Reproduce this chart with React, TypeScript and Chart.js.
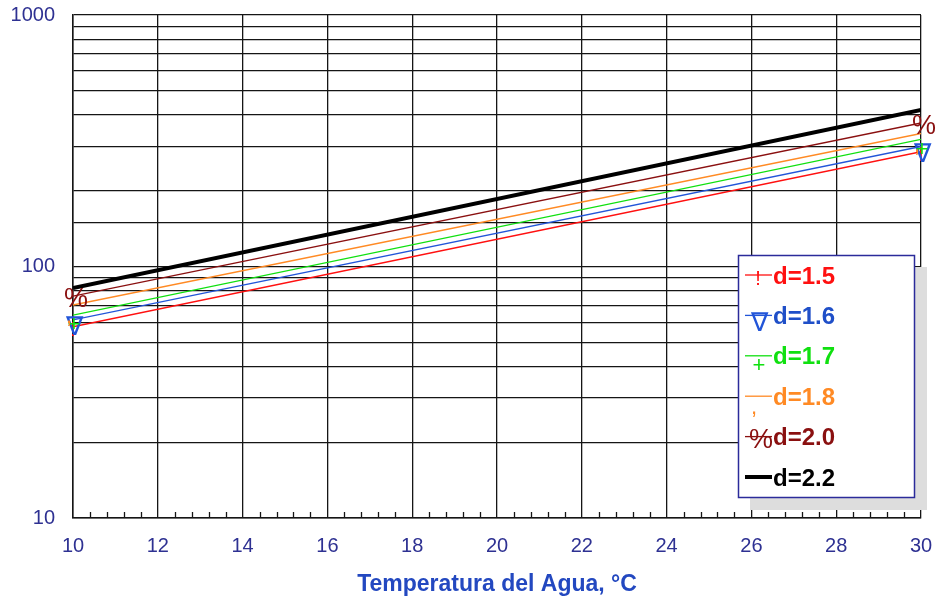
import React, { useEffect, useRef } from 'react';
import { Chart, registerables } from 'chart.js';

Chart.register(...registerables);

// ---- data ----
const temperatures = [10, 30];
const seriesLabels = ['d=1.5', 'd=1.6', 'd=1.7', 'd=1.8', 'd=2.0', 'd=2.2'];
const d15 = [57.6, 286];
const d16 = [61.3, 300];
const d17 = [64.1, 320];
const d18 = [70.3, 338];
const d20 = [76.3, 372];
const d22 = [82.1, 419];
const seriesValues = [d15, d16, d17, d18, d20, d22];
const xTickStep = 2;
const xMinorStep = 0.4;
const yTickLabels = [10, 100, 1000];
const xTitle = 'Temperatura del Agua, °C';

// ---- styles ----
const FONT = "'Liberation Sans', Arial, sans-serif";
const AXIS_TEXT = '#2e3192';
const TITLE_COLOR = '#2348c0';
const GRID = '#151515';
const seriesStyles = [
  { color: '#ff1010', text: '#ff1010', width: 1.3, glyph: '!', size: 20, dx: 0, dy: -6 },
  { color: '#2255d8', text: '#1f4fc8', width: 1.3, glyph: '∇', size: 26, dx: 1, dy: -5 },
  { color: '#10e010', text: '#10e010', width: 1.3, glyph: '+', size: 22, dx: 1, dy: -1 },
  { color: '#ff8a24', text: '#ff8a24', width: 1.3, glyph: ',', size: 22, dx: -4, dy: 1 },
  { color: '#8a1010', text: '#8a1010', width: 1.3, glyph: '%', size: 27, dx: 3, dy: -10 },
  { color: '#000000', text: '#000000', width: 4, glyph: '', size: 0, dx: 0, dy: 0 },
];

const minorTicksPlugin = {
  id: 'minorTicks',
  beforeDatasetsDraw(chart: any) {
    const { ctx, chartArea, scales } = chart;
    const x = scales.x;
    ctx.save();
    ctx.strokeStyle = GRID;
    ctx.lineWidth = 1.3;
    const n = Math.round((x.max - x.min) / xMinorStep);
    for (let i = 1; i < n; i++) {
      const v = x.min + i * xMinorStep;
      if (Math.abs(v / xTickStep - Math.round(v / xTickStep)) < 1e-6) continue;
      const px = Math.round(x.getPixelForValue(v)) + 0.5;
      ctx.beginPath();
      ctx.moveTo(px, chartArea.bottom);
      ctx.lineTo(px, chartArea.bottom - 6);
      ctx.stroke();
    }
    ctx.restore();
  },
};

function drawGlyph(ctx: CanvasRenderingContext2D, s: any, x: number, y: number) {
  if (!s.glyph) return;
  ctx.save();
  ctx.fillStyle = s.color;
  ctx.font = `${s.size}px ${FONT}`;
  ctx.textAlign = 'center';
  ctx.textBaseline = 'top';
  ctx.fillText(s.glyph, x + s.dx, y + s.dy);
  ctx.restore();
}

const markersPlugin = {
  id: 'endMarkers',
  afterDatasetsDraw(chart: any) {
    const { ctx } = chart;
    chart.data.datasets.forEach((_: any, di: number) => {
      const meta = chart.getDatasetMeta(di);
      const s = seriesStyles[di];
      meta.data.forEach((pt: any) => drawGlyph(ctx, s, pt.x, pt.y));
    });
  },
};

const legendPlugin = {
  id: 'boxLegend',
  afterDraw(chart: any) {
    const { ctx, chartArea } = chart;
    const left = chartArea.right - 183;
    const top = chartArea.top + 240;
    const w = 176;
    const h = 242;
    ctx.save();
    ctx.fillStyle = '#dddddd';
    ctx.fillRect(left + 12, top + 12, w + 1, h + 1);
    ctx.fillStyle = '#ffffff';
    ctx.fillRect(left, top, w, h);
    ctx.strokeStyle = '#2b2b9a';
    ctx.lineWidth = 1.5;
    ctx.strokeRect(left + 0.5, top + 0.5, w, h);
    seriesLabels.forEach((label, i) => {
      const s = seriesStyles[i];
      const rowY = top + 22 + i * 40.4;
      const lineY = rowY - 2;
      ctx.strokeStyle = s.color;
      ctx.lineWidth = s.width;
      ctx.beginPath();
      ctx.moveTo(left + 7, lineY);
      ctx.lineTo(left + 34, lineY);
      ctx.stroke();
      drawGlyph(ctx, s, left + 20, lineY);
      ctx.fillStyle = s.text;
      ctx.font = `bold 24px ${FONT}`;
      ctx.textAlign = 'left';
      ctx.textBaseline = 'middle';
      ctx.fillText(label, left + 35, rowY);
    });
    ctx.restore();
  },
};

export default function App() {
  const ref = useRef<HTMLCanvasElement | null>(null);

  useEffect(() => {
    document.body.style.margin = '0';
    if (!ref.current) return;
    const chart = new Chart(ref.current, {
      type: 'line',
      data: {
        datasets: seriesLabels.map((label, i) => ({
          label,
          data: temperatures.map((t, j) => ({ x: t, y: seriesValues[i][j] })),
          borderColor: seriesStyles[i].color,
          borderWidth: seriesStyles[i].width,
          pointRadius: 0,
          fill: false,
          tension: 0,
        })),
      },
      options: {
        responsive: false,
        animation: false,
        layout: { padding: { top: 15, right: 17, left: 0, bottom: 0 } },
        plugins: { legend: { display: false }, tooltip: { enabled: false } },
        scales: {
          x: {
            type: 'linear',
            min: 10,
            max: 30,
            ticks: {
              stepSize: xTickStep,
              color: AXIS_TEXT,
              font: { family: FONT, size: 20 },
              padding: 16,
            },
            grid: { color: GRID, lineWidth: 1.3, drawTicks: false },
            border: { color: GRID, width: 1.5 },
            title: {
              display: true,
              text: xTitle,
              color: TITLE_COLOR,
              font: { family: FONT, size: 23, weight: 'bold' },
              padding: { top: 0, bottom: 4 },
            },
            afterFit: (s: any) => {
              s.height = 84;
              s.paddingLeft = 0;
              s.paddingRight = 0;
            },
          },
          y: {
            type: 'logarithmic',
            min: 10,
            max: 1000,
            ticks: {
              autoSkip: false,
              color: AXIS_TEXT,
              font: { family: FONT, size: 20 },
              padding: 18,
              callback: (v: any) => (yTickLabels.includes(Number(v)) ? String(v) : ''),
            },
            grid: { color: GRID, lineWidth: 1.3, drawTicks: false },
            border: { color: GRID, width: 1.5 },
            afterFit: (s: any) => {
              s.width = 73;
              s.paddingTop = 0;
              s.paddingBottom = 0;
            },
          },
        },
      },
      plugins: [minorTicksPlugin, markersPlugin, legendPlugin],
    } as any);
    return () => chart.destroy();
  }, []);

  return (
    <div style={{ width: 938, height: 602 }}>
      <canvas ref={ref} width={938} height={602} style={{ display: 'block' }} />
    </div>
  );
}
